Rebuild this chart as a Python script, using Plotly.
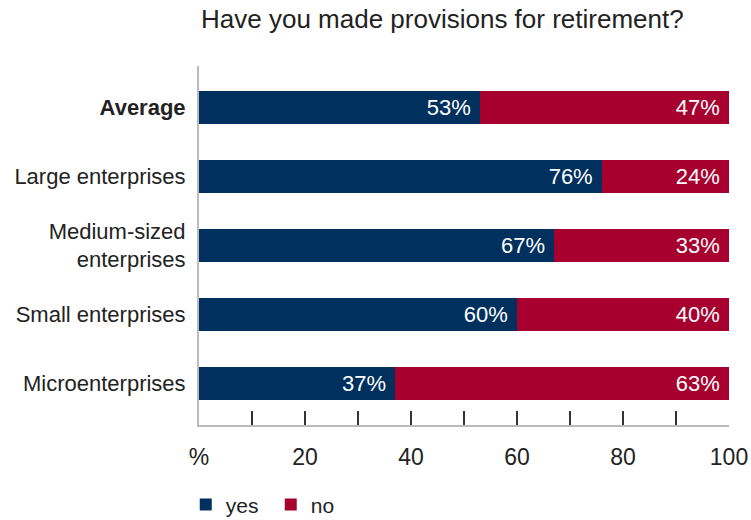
import plotly.graph_objects as go

# Survey results: share of respondents with retirement provisions
categories = ["<b>Average</b>", "Large enterprises", "Medium-sized<br>enterprises",
              "Small enterprises", "Microenterprises"]
yes_values = [53, 76, 67, 60, 37]
no_values = [47, 24, 33, 40, 63]

x_tick_values = [0, 10, 20, 30, 40, 50, 60, 70, 80, 90, 100]
x_tick_labels = ["%", "", "20", "", "40", "", "60", "", "80", "", "100"]

NAVY = "#00305e"
RED = "#a8002e"
FONT = "Liberation Sans, Arial, sans-serif"

fig = go.Figure()
for name, vals, color in [("yes", yes_values, NAVY), ("no", no_values, RED)]:
    fig.add_trace(go.Bar(
        y=categories, x=vals, name=name, orientation="h",
        marker=dict(color=color, line=dict(width=0)),
        texttemplate="%{x}%\u00a0", textposition="inside", insidetextanchor="end",
        textfont=dict(color="white", size=22, family=FONT),
        width=0.48,
    ))

fig.update_layout(
    barmode="stack",
    width=751, height=520,
    margin=dict(l=199, r=22, t=66, b=95, autoexpand=False),
    paper_bgcolor="white", plot_bgcolor="white",
    font=dict(family=FONT, color="#222222", size=21),
    showlegend=True,
    legend=dict(orientation="h", x=-0.025, y=-0.165, xanchor="left", yanchor="top",
                font=dict(size=21, color="#222222"), entrywidth=40,
                traceorder="normal"),
    annotations=[dict(text="Have you made provisions for retirement?", x=0, y=1.13,
                      xref="paper", yref="paper", xanchor="left", yanchor="middle",
                      showarrow=False, font=dict(size=26, color="#222222"))],
)
fig.update_xaxes(
    range=[0, 100], tickvals=x_tick_values, ticktext=x_tick_labels,
    ticks="inside", ticklen=14, tickwidth=1.5, tickcolor="#333333",
    showline=True, linecolor="#bbbbbb", linewidth=2, showgrid=False, zeroline=False,
    tickfont=dict(size=23, color="#222222"), ticklabelstandoff=10,
)
fig.update_yaxes(
    categoryorder="array", categoryarray=categories, range=[4.6, -0.6],
    showline=True, linecolor="#bbbbbb", linewidth=2, showgrid=False, zeroline=False,
    ticks="", ticklabelstandoff=7, tickfont=dict(size=22, color="#222222"),
)

fig.write_html("out.html")
